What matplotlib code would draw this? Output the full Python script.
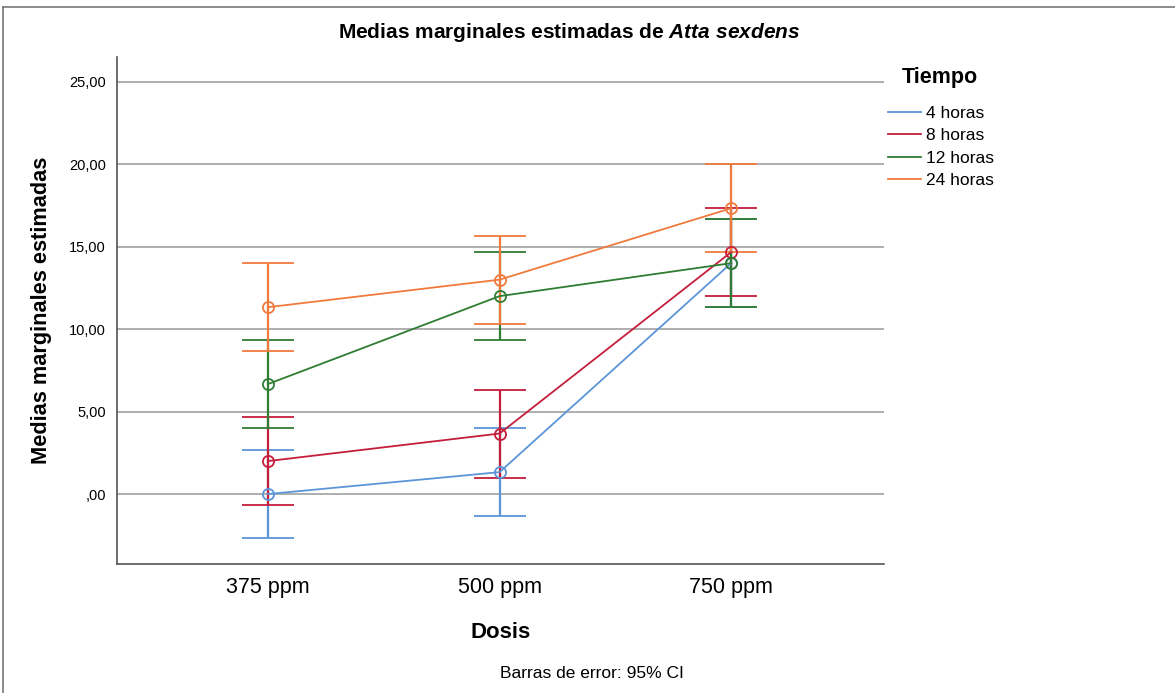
import matplotlib.pyplot as plt
from matplotlib.lines import Line2D
from matplotlib.ticker import FuncFormatter

plt.rcParams['font.family'] = ['Liberation Sans', 'DejaVu Sans']
plt.rcParams['mathtext.fontset'] = 'custom'
plt.rcParams['mathtext.it'] = 'Liberation Sans:italic:bold'

# data
dosis = ['375 ppm', '500 ppm', '750 ppm']
tiempos = ['4 horas', '8 horas', '12 horas', '24 horas']
medias = {
    '4 horas': [0.0, 1.33, 14.0],
    '8 horas': [2.0, 3.67, 14.67],
    '12 horas': [6.67, 12.0, 14.0],
    '24 horas': [11.33, 13.0, 17.33],
}
ci_mitad = {
    '4 horas': [2.67, 2.67, 2.67],
    '8 horas': [2.67, 2.67, 2.67],
    '12 horas': [2.67, 2.67, 2.67],
    '24 horas': [2.67, 2.67, 2.67],
}
colores = {
    '4 horas': '#5b95d8',
    '8 horas': '#c41e3a',
    '12 horas': '#2f7d32',
    '24 horas': '#f07a3c',
}

fig = plt.figure(figsize=(11.75, 6.93), dpi=100)
ax = fig.add_axes([117/1175, 1-564/693, (884-117)/1175, (564-57)/693])

x = list(range(len(dosis)))
for t in tiempos:
    ax.errorbar(x, medias[t], yerr=ci_mitad[t], color=colores[t], fmt='o-',
                mfc='none', mec=colores[t], markersize=8, mew=1.3, lw=1.3,
                elinewidth=1.6, capsize=19, capthick=1.6)

ax.set_xlim(-0.652, 2.66)
ax.set_ylim(-4.24, 26.5)
ax.set_yticks([0, 5, 10, 15, 20, 25])
ax.yaxis.set_major_formatter(FuncFormatter(
    lambda v, p: ',00' if abs(v) < 1e-9 else f'{v:.2f}'.replace('.', ',')))
ax.set_xticks(x)
ax.set_xticklabels(dosis, fontsize=15.5)
ax.tick_params(axis='y', labelsize=10.5, length=0, pad=8)
ax.tick_params(axis='x', length=0, pad=9)
ax.grid(axis='y', color='#a8a8a8', lw=1.3)
ax.set_axisbelow(True)
for s in ['top', 'right']:
    ax.spines[s].set_visible(False)
for s in ['left', 'bottom']:
    ax.spines[s].set_color('#555555')
    ax.spines[s].set_linewidth(1.2)

ax.set_xlabel('Dosis', fontsize=16, fontweight='bold', labelpad=18)
ax.set_ylabel('Medias marginales estimadas', fontsize=15.7, fontweight='bold', labelpad=12)

fig.text(569/1175, 1-32/693, r'Medias marginales estimadas de $\it{Atta\ sexdens}$',
         ha='center', va='center', fontsize=15, fontweight='bold')
fig.text(592/1175, 1-673/693, 'Barras de error: 95% CI', ha='center', va='center', fontsize=12.5)

# legend
fig.text(902/1175, 1-77/693, 'Tiempo', ha='left', va='center', fontsize=15.5, fontweight='bold')
handles = [Line2D([], [], color=colores[t], lw=1.3) for t in tiempos]
fig.legend(handles, tiempos, loc='upper left', bbox_to_anchor=(872/1175, 1-90/693),
           frameon=False, fontsize=12.5, handlelength=1.9,
           handletextpad=0.3, labelspacing=0.42)

# outer frame lines (top and left)
fig.add_artist(Line2D([3/1175, 1], [1-7/693, 1-7/693], color='#777777', lw=1.2))
fig.add_artist(Line2D([3/1175, 3/1175], [0, 1-7/693], color='#777777', lw=1.2))

fig.savefig('out.png', dpi=100)
